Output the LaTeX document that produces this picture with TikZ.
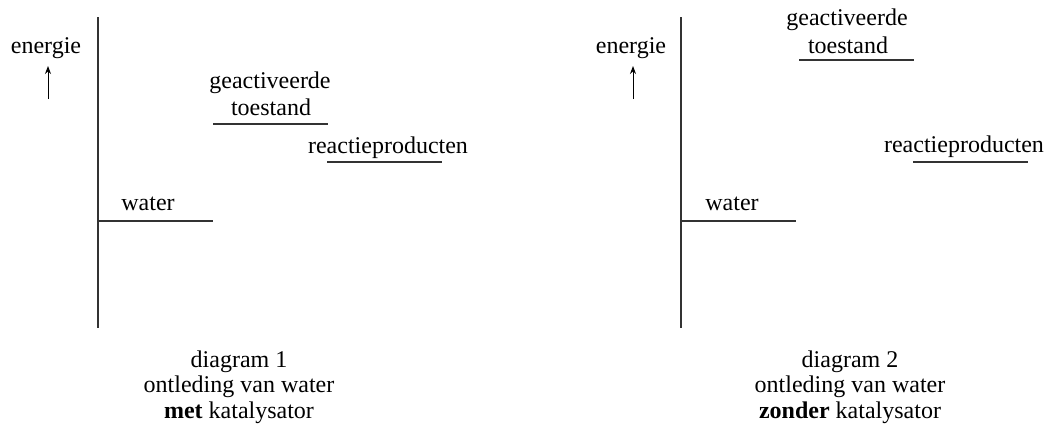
\documentclass[tikz,border=0pt]{standalone}
\usepackage{fontspec}
\setmainfont{Liberation Serif}
\usetikzlibrary{arrows.meta}
\begin{document}
\begin{tikzpicture}
      [x=.5pt,y=-.5pt
      ,lin/.style={color=black!80,line width=.6pt}
      ,pijl/.style={color=black,line width=.5pt,-{Stealth[length=4pt,width=3pt]}}
      ,txt/.style={anchor=base,inner sep=0pt,font=\fontsize{12}{14}\selectfont}
      ]
        \useasboundingbox (0,0) rectangle (1049,430);
        % diagram 1
        \draw[lin] (98,17) -- (98,328);
        \draw[pijl] (48,99) -- (48,66);
        \draw[lin] (98,221) -- (213,221);
        \draw[lin] (213,124) -- (328,124);
        \draw[lin] (327,162) -- (442,162);
        \node[txt] (en1) at (46,53) {energie};
        \node[txt] (ga1) at (270,88) {geactiveerde};
        \node[txt] (ts1) at (271,115) {toestand};
        \node[txt] (rp1) at (388,153) {reactieproducten};
        \node[txt] (wa1) at (148,210) {water};
        \node[txt] (dg1) at (239,367) {diagram 1};
        \node[txt] (ow1) at (239,392) {ontleding van water};
        \node[txt] (kt1) at (239,418) {\textbf{met} katalysator};
        % diagram 2
        \draw[lin] (681,17) -- (681,328);
        \draw[pijl] (633,99) -- (633,66);
        \draw[lin] (681,221) -- (796,221);
        \draw[lin] (799,60) -- (914,60);
        \draw[lin] (913,162) -- (1028,162);
        \node[txt] (en2) at (631,53) {energie};
        \node[txt] (ga2) at (847,25) {geactiveerde};
        \node[txt] (ts2) at (848,53) {toestand};
        \node[txt] (rp2) at (964,152) {reactieproducten};
        \node[txt] (wa2) at (732,210) {water};
        \node[txt] (dg2) at (850,367) {diagram 2};
        \node[txt] (ow2) at (850,392) {ontleding van water};
        \node[txt] (kt2) at (850,418) {\textbf{zonder} katalysator};
      \end{tikzpicture}
\end{document}
